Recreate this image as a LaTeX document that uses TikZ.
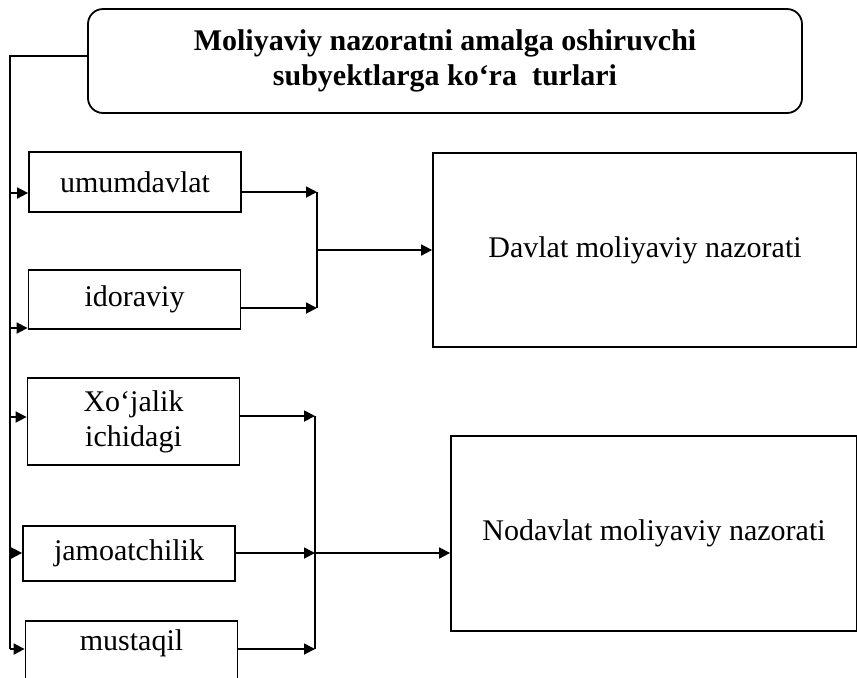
\documentclass[tikz,border=0pt]{standalone}
\usepackage{fontspec}
\setmainfont{Liberation Serif}
\usetikzlibrary{arrows.meta, positioning, calc}

\begin{document}
\begin{tikzpicture}[
      x=0.5pt, y=-0.5pt,
      font=\fontsize{15}{17.5}\selectfont,
      head/.style={rectangle, draw, line width=0.9pt, rounded corners=7.5pt, minimum width=357pt, minimum height=52pt, align=center, font=\fontsize{15}{17.5}\selectfont\bfseries},
      box/.style={rectangle, draw, line width=0.9pt, minimum width=106pt, align=center, inner sep=0pt},
      big/.style={rectangle, draw, line width=0.9pt, minimum height=97pt, inner sep=0pt},
      line/.style={line width=0.9pt},
      arrow/.style={-{Triangle[length=5.5pt, width=5.5pt]}, line width=0.9pt}
    ]
    \clip (0,0) rectangle (857,677);

    \node[head] (title) at (445,61) {Moliyaviy nazoratni amalga oshiruvchi\\subyektlarga ko‘ra\ \ turlari};

    % left column
    \node[box, minimum height=30pt] (umum) at (135,182) {umumdavlat};
    \node[box, minimum height=29.5pt] (idor) at (134.5,299.5) {idoraviy};
    \node[box, minimum height=43.5pt] (xoj) at (133.5,421.5) {Xo‘jalik\\ichidagi};
    \node[box, minimum height=27.5pt] (jam) at (129,553.5) {jamoatchilik};
    \node[box, anchor=north, text height=15pt, text depth=25pt] (must) at (131.5,620) {mustaqil};

    % right column
    \node[big, minimum width=212pt] (dav) at (645,250) {Davlat moliyaviy nazorati};
    \node[big, minimum width=203pt, minimum height=97.5pt] (nodav) at (654,533.5) {Nodavlat moliyaviy nazorati};

    \coordinate (t0) at (10,56);
    \coordinate (t1) at (10,193);
    \coordinate (t2) at (10,328);
    \coordinate (t3) at (10,417);
    \coordinate (t4) at (10,553);
    \coordinate (t5) at (10,649);
    \coordinate (g1) at (317,192);
    \coordinate (g2) at (317,308);
    \coordinate (gm) at (317,250);
    \coordinate (h1) at (315,416);
    \coordinate (h2) at (315,553);
    \coordinate (h3) at (315,649);

    \draw[line] (t0 -| title.west) -- (t0) -- (t5);
    \foreach \src/\dst in {t1/umum, t2/idor, t3/xoj, t4/jam, t5/must}
      \draw[arrow] (\src) -- (\src -| \dst.west);

    \draw[arrow] (umum.east |- g1) -- (g1);
    \draw[arrow] (idor.east |- g2) -- (g2);
    \draw[line] (g1) -- (g2);
    \draw[arrow] (gm) -- (gm -| dav.west);

    \draw[arrow] (xoj.east |- h1) -- (h1);
    \draw[arrow] (jam.east |- h2) -- (h2);
    \draw[arrow] (must.east |- h3) -- (h3);
    \draw[line] (h1) -- (h3);
    \draw[arrow] (h2) -- (h2 -| nodav.west);
  \end{tikzpicture}
\end{document}
